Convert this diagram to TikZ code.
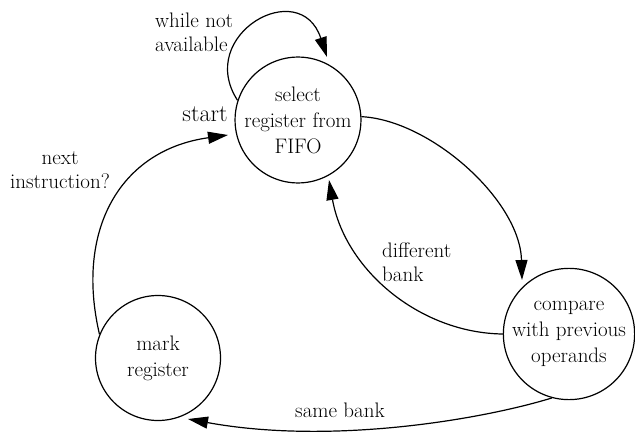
\documentclass[tikz,border=0pt]{standalone}
\usetikzlibrary{arrows.meta}
\begin{document}
\begin{tikzpicture}[x=1pt,y=-1pt,
  state/.style={circle,draw,line width=1.2pt,minimum size=125pt,inner sep=0pt,align=center,
    font=\fontsize{21}{26}\selectfont},
  lbl/.style={font=\fontsize{21}{24}\selectfont,inner sep=0pt},
  edge/.style={line width=1.2pt,-{Triangle[length=20pt,width=12pt]}}]
\useasboundingbox (0,0) rectangle (635,434);
\node[state] (A) at (298,120) {select\\register from\\FIFO};
\node[state] (B) at (569,334) {compare\\with previous\\operands};
\node[state] (C) at (158,358) {mark\\register};

\coordinate (Aloop) at (327,57);
\coordinate (Astart) at (228,135);
\coordinate (Atop) at (329,180);
\coordinate (Bin) at (522,280);
\coordinate (Cin) at (188,419);

\draw[edge] (A.162) .. controls (195,35) and (300,-25) .. (Aloop);
\draw[edge] (C.158) .. controls (75,230) and (120,150) .. (Astart);
\draw[edge] (A.3) .. controls (430,120) and (520,200) .. (Bin);
\draw[edge] (B.180) .. controls (420,333) and (345,270) .. (Atop);
\draw[edge] (B.255) .. controls (480,420) and (330,445) .. (Cin);

\node[lbl,align=left,anchor=west] (l1) at (155,32) {while not\\available};
\node[inner sep=0pt,font=\fontsize{24}{28}\selectfont] (l2) at (205,114) {start};
\node[lbl,align=center] (l3) at (60,170) {next\\instruction?};
\node[lbl,align=left,anchor=west] (l4) at (382,262) {different\\bank};
\node[lbl] (l5) at (340,410) {same bank};
\end{tikzpicture}
\end{document}
